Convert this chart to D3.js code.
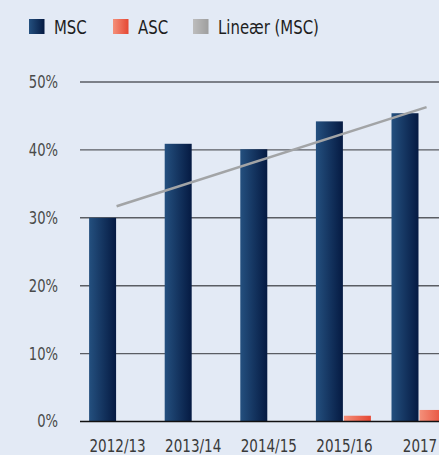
<!DOCTYPE html>
<html><head><meta charset="utf-8">
<script src="https://cdn.jsdelivr.net/npm/d3@7"></script>
<style>
html,body{margin:0;padding:0;background:#e3eaf5;overflow:hidden;}
svg{display:block;}
text{font-family:"DejaVu Sans Condensed","DejaVu Sans",sans-serif;}
</style></head>
<body><svg id="c" width="439" height="455"></svg>
<script>
const categories = ["2012/13","2013/14","2014/15","2015/16","2017"];
const seriesNames = ["MSC","ASC"];
const msc = [30.0, 40.9, 40.1, 44.2, 45.4];
const asc = [null, null, null, 0.85, 1.7];
const trendIdx = [0, 4.1];
const trendVal = [31.7, 46.3];
const yTicks = [0,10,20,30,40,50];
const legendLabels = ["MSC","ASC","Lineær (MSC)"];

const svg = d3.select("#c");
const W = 439, H = 455;
const SX = 0.86;
svg.append("rect").attr("width",W).attr("height",H).attr("fill","#e3eaf5");

const defs = svg.append("defs");
function grad(id, c1, c2){
  const g = defs.append("linearGradient").attr("id",id).attr("x1","0%").attr("x2","100%").attr("y1","0%").attr("y2","0%");
  g.append("stop").attr("offset","0%").attr("stop-color",c1);
  g.append("stop").attr("offset","100%").attr("stop-color",c2);
}
grad("gM","#24507f","#051a42");
grad("gA","#f4907a","#e54733");
grad("gL","#bdbdbd","#9e9e9e");

const y = d3.scaleLinear().domain([0,50]).range([421.5, 82]);
const x = d3.scaleBand().domain(categories).range([78.8, 78.8 + 75.6*5]).paddingInner(0).paddingOuter(0);
const xi = d3.scaleLinear().domain([0,1]).range([x(categories[0]) + x.bandwidth()/2, x(categories[1]) + x.bandwidth()/2]);
const barW = 26.5, gap = 1;
const x1 = d3.scaleBand().domain(seriesNames).range([-(barW+gap/2)-0.5, barW+gap/2+0.5]).paddingInner(gap/(barW+gap));

// gridlines
const gridX0 = 80;
svg.append("g").selectAll("line").data(yTicks.filter(t=>t>0)).join("line")
  .attr("x1",gridX0).attr("x2",W+20).attr("y1",d=>y(d)).attr("y2",d=>y(d))
  .attr("stroke","#5a5d63").attr("stroke-width",1.4);

// y labels
svg.append("g").selectAll("text").data(yTicks).join("text")
  .attr("transform",d=>`translate(58,${y(d)}) scale(${SX},1)`)
  .attr("dy","0.35em").attr("text-anchor","end")
  .attr("font-size",17).attr("fill","#4a4a4a").text(d=>d+"%");

// bars
const data = categories.map((c,i)=>({c, MSC:msc[i], ASC:asc[i]}));
const grp = svg.append("g").selectAll("g").data(data).join("g")
  .attr("transform",d=>`translate(${x(d.c)+x.bandwidth()/2},0)`);
grp.selectAll("rect").data(d=>seriesNames.map(s=>({s, v:d[s]})).filter(e=>e.v!=null)).join("rect")
  .attr("x",e=>x1(e.s)).attr("width",x1.bandwidth())
  .attr("y",e=>y(e.v)).attr("height",e=>y(0)-y(e.v))
  .attr("fill",e=>e.s==="MSC"?"url(#gM)":"url(#gA)");

// zero line
svg.append("line").attr("x1",gridX0).attr("x2",W+20).attr("y1",y(0)).attr("y2",y(0))
  .attr("stroke","#111").attr("stroke-width",1.5);

// trend line
svg.append("path").datum(trendIdx.map((t,i)=>[t,trendVal[i]]))
  .attr("d",d3.line().x(d=>xi(d[0])).y(d=>y(d[1])))
  .attr("stroke","#a2a4a6").attr("stroke-width",2.6).attr("fill","none");

// x labels
svg.append("g").selectAll("text").data(categories).join("text")
  .attr("transform",d=>`translate(${x(d)+x.bandwidth()/2+1},451.5) scale(${SX},1)`)
  .attr("text-anchor","middle")
  .attr("font-size",17.5).attr("fill","#3a3a3a").text(d=>d);

// legend
const legX = [29,113,193];
const legFill = ["url(#gM)","url(#gA)","url(#gL)"];
const lg = svg.append("g").selectAll("g").data(legendLabels).join("g")
  .attr("transform",(d,i)=>`translate(${legX[i]},19)`);
lg.append("rect").attr("width",15.5).attr("height",15).attr("fill",(d,i)=>legFill[i]);
lg.append("text").attr("transform","translate(25,14.5) scale(0.85,1)")
  .attr("font-size",19.5).attr("fill","#1e1e1e").text(d=>d);
</script></body></html>
